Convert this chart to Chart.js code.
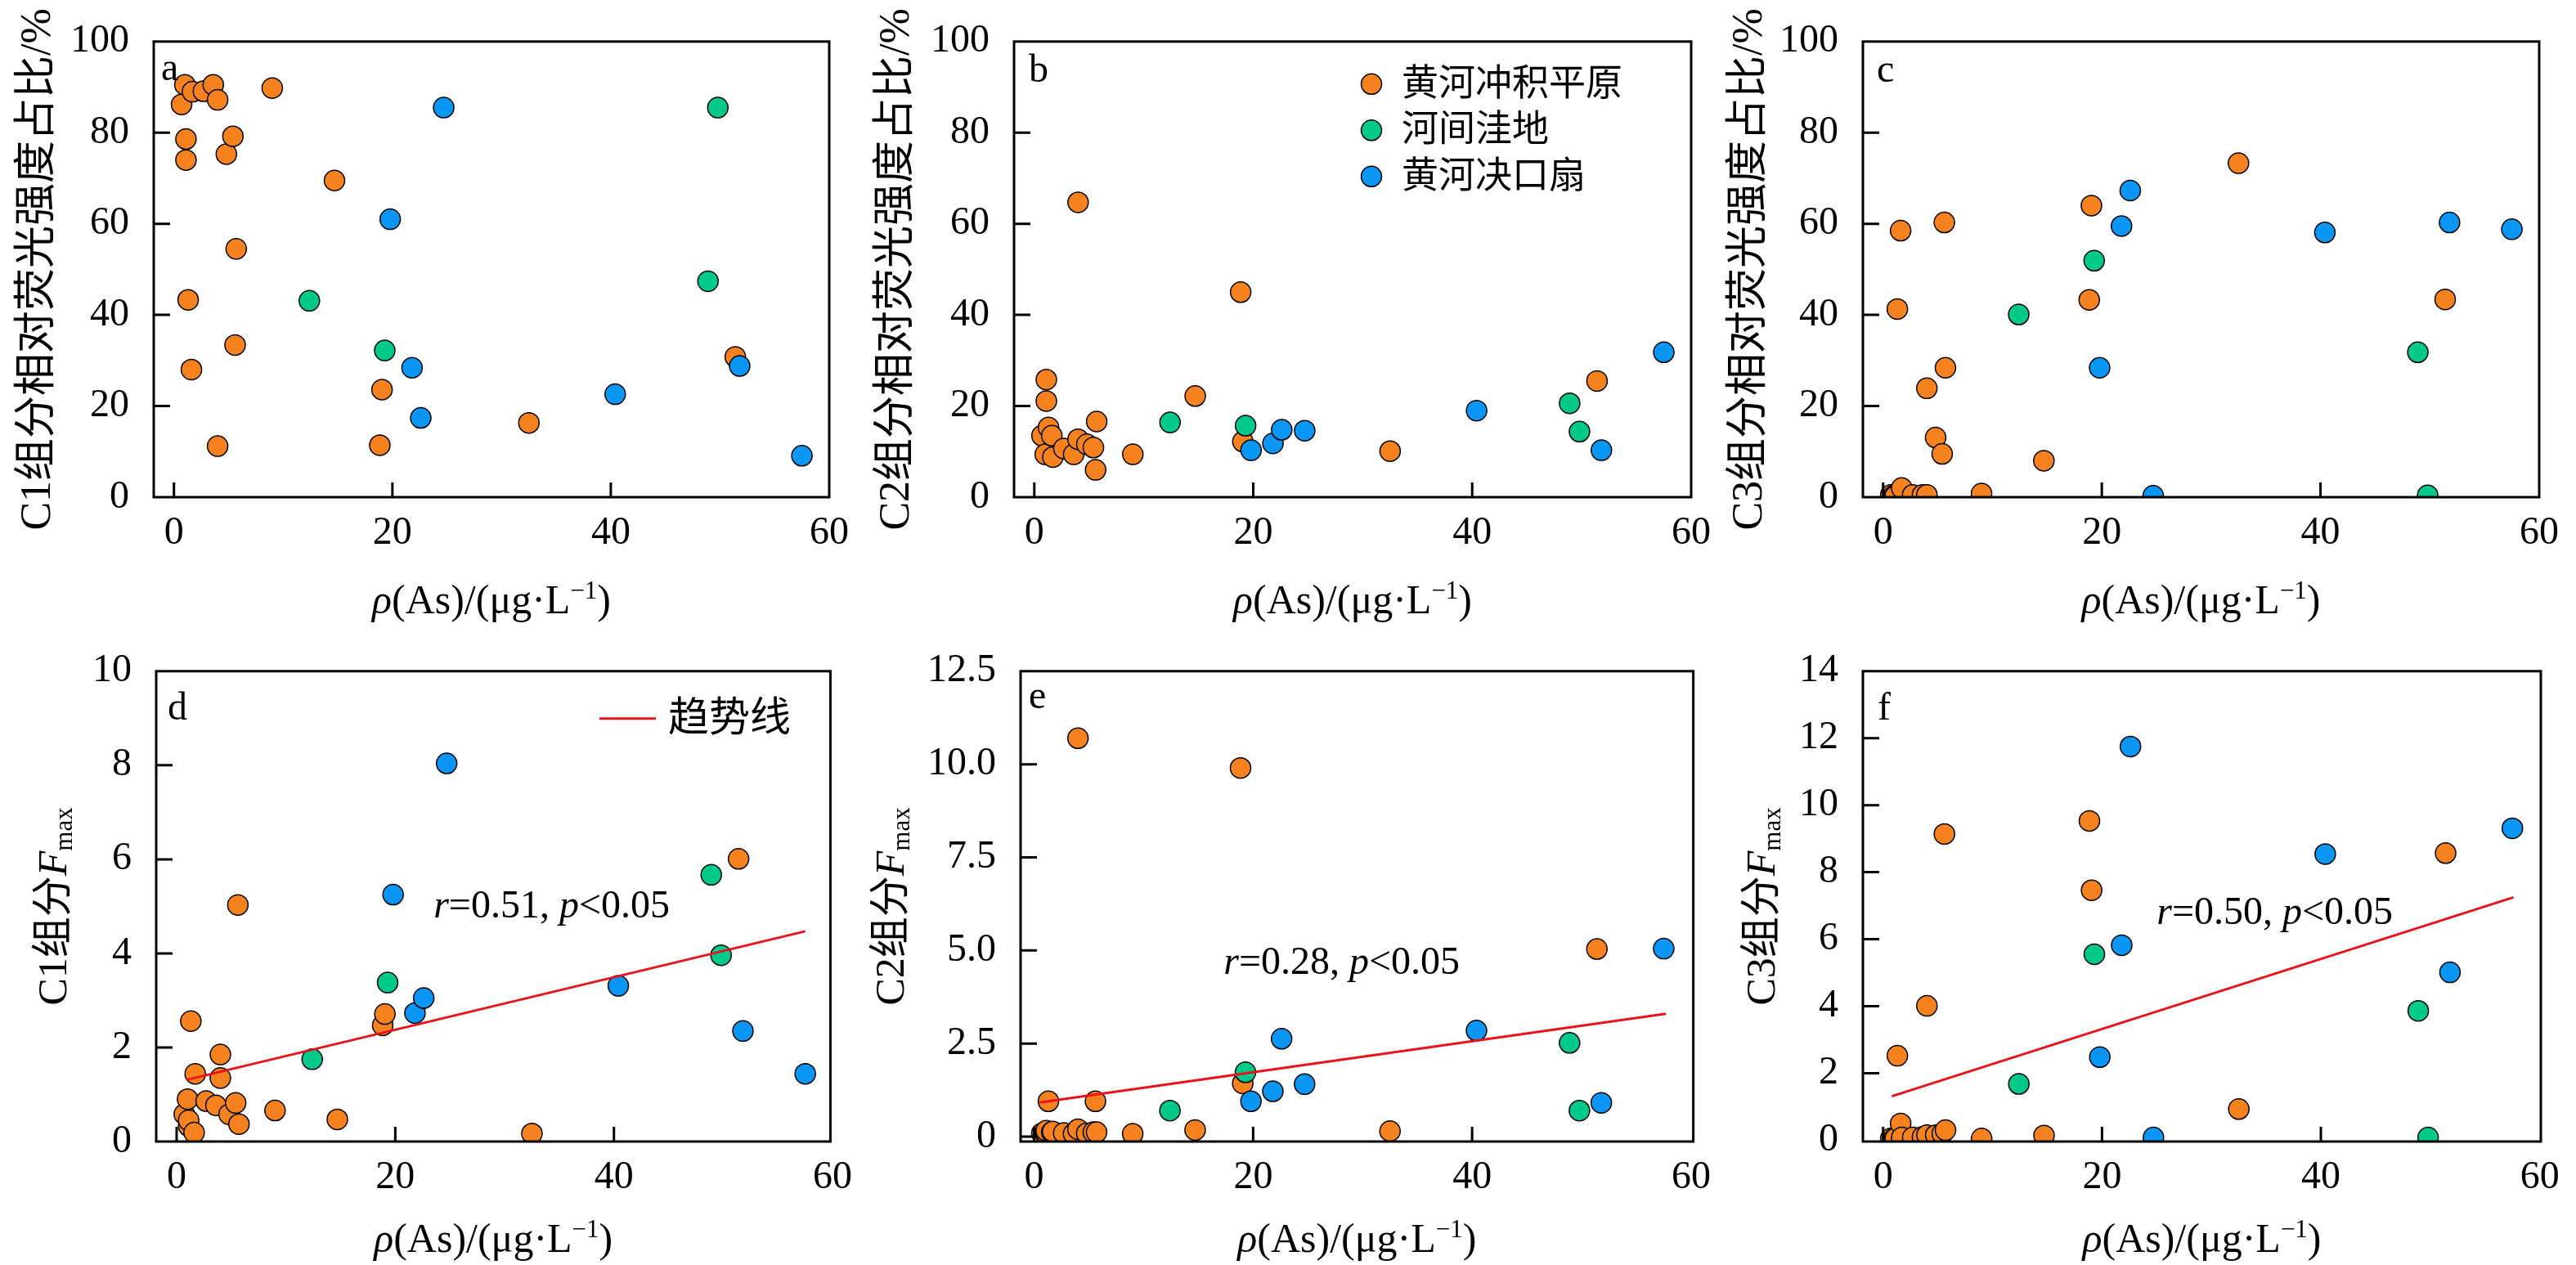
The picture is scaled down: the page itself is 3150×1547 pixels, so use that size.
<!DOCTYPE html>
<html>
<head>
<meta charset="utf-8">
<script src="https://cdn.jsdelivr.net/npm/chart.js@4.4.0/dist/chart.umd.min.js"></script>
<style>
  body { margin: 0; background: #fff; }
  #wrap { position: relative; width: 3150px; height: 1547px; overflow: hidden; }
  #wrap canvas { position: absolute; }
</style>
</head>
<body>
<div id="wrap">
  <canvas id="pa" width="1050" height="770" style="left:0;top:0"></canvas>
  <canvas id="pb" width="1050" height="770" style="left:1050px;top:0"></canvas>
  <canvas id="pc" width="1050" height="770" style="left:2100px;top:0"></canvas>
  <canvas id="pd" width="1050" height="777" style="left:0;top:770px"></canvas>
  <canvas id="pe" width="1050" height="777" style="left:1050px;top:770px"></canvas>
  <canvas id="pf" width="1050" height="777" style="left:2100px;top:770px"></canvas>
</div>
<script>
// ---- data ----
const groupNames = ['黄河冲积平原', '河间洼地', '黄河决口扇'];
const groupColors = ['#F5821E', '#00C98A', '#0A96F5'];

// As concentration of the samples (same samples in every panel)
const orangeAs = [0.7, 1.0, 1.1, 1.1, 1.3, 1.6, 1.7, 2.7, 3.6, 4.0, 4.0, 4.8, 5.4, 5.6, 5.7, 9.0, 14.7, 18.85, 19.05, 32.5, 51.4];
const greenAs = [12.4, 19.3, 48.9, 49.8];
const blueAs = [19.8, 21.8, 22.6, 24.7, 40.4, 51.8, 57.5];

// relative fluorescence share, %
const c1PctOrange = [86.2, 90.5, 78.6, 74.0, 43.3, 28.0, 89.0, 89.1, 90.5, 87.2, 11.2, 75.3, 79.2, 33.4, 54.5, 89.8, 69.5, 11.4, 23.6, 16.3, 30.8];
const c2PctOrange = [13.5, 9.4, 21.1, 25.8, 15.3, 13.5, 8.8, 10.7, 9.4, 12.7, 64.7, 11.6, 10.9, 6.0, 16.6, 9.4, 22.2, 45.0, 12.2, 10.1, 25.5];
const c3PctOrange = [0.5, 0.4, 0.3, 0.2, 41.3, 58.5, 2.0, 0.5, 0.5, 0.5, 23.9, 13.1, 9.5, 60.3, 28.4, 0.8, 8.0, 43.3, 64.0, 73.3, 43.4];
const c1PctGreen = [43.1, 32.2, 47.4, 85.5];
const c2PctGreen = [16.4, 15.7, 20.6, 14.4];
const c3PctGreen = [40.1, 51.9, 31.8, 0.4];
const c1PctBlue = [61.0, 28.4, 17.4, 85.5, 22.6, 28.8, 9.1];
const c2PctBlue = [10.3, 11.8, 14.8, 14.6, 19.0, 10.3, 31.8];
const c3PctBlue = [28.4, 59.5, 67.3, 0.3, 58.1, 60.3, 58.8];

// Fmax
const c1FOrange = [0.58, 0.90, 0.33, 0.45, 2.56, 0.19, 1.44, 0.86, 0.77, 1.35, 1.85, 0.58, 0.82, 5.03, 0.37, 0.66, 0.47, 2.47, 2.71, 0.17, 6.01];
const c2FOrange = [0.09, 0.10, 0.09, 0.16, 0.95, 0.12, 0.14, 0.10, 0.08, 0.20, 10.7, 0.09, 0.12, 0.95, 0.12, 0.08, 0.18, 9.9, 1.43, 0.15, 5.04];
const c3FOrange = [0.05, 0.05, 0.05, 0.05, 2.52, 0.50, 0.08, 0.08, 0.10, 0.15, 4.01, 0.15, 0.20, 9.14, 0.30, 0.05, 0.14, 9.53, 7.46, 0.93, 8.57];
const c1FGreen = [1.75, 3.38, 5.67, 3.96];
const c2FGreen = [0.70, 1.73, 2.52, 0.70];
const c3FGreen = [1.68, 5.55, 3.86, 0.08];
const c1FBlue = [5.25, 2.73, 3.05, 8.04, 3.31, 2.35, 1.44];
const c2FBlue = [0.95, 1.22, 2.63, 1.41, 2.85, 0.91, 5.05];
const c3FBlue = [2.48, 5.82, 11.75, 0.08, 8.54, 5.01, 9.31];

// trend lines (end points)
const trendC1X = [0.9, 57.5], trendC1Y = [1.31, 4.47];
const trendC2X = [0.5, 57.7], trendC2Y = [0.92, 3.30];
const trendC3X = [0.8, 57.6], trendC3Y = [1.31, 7.25];
const trendStats = ['0.51', '0.28', '0.50'];

// ticks
const xTicks = [0, 20, 40, 60];
const xTickLabels = ['0', '20', '40', '60'];
const pctTicks = [0, 20, 40, 60, 80, 100];
const pctTickLabels = ['0', '20', '40', '60', '80', '100'];
const c1FTicks = [0, 2, 4, 6, 8, 10];
const c1FTickLabels = ['0', '2', '4', '6', '8', '10'];
const c2FTicks = [0, 2.5, 5, 7.5, 10, 12.5];
const c2FTickLabels = ['0', '2.5', '5.0', '7.5', '10.0', '12.5'];
const c3FTicks = [0, 2, 4, 6, 8, 10, 12, 14];
const c3FTickLabels = ['0', '2', '4', '6', '8', '10', '12', '14'];

// ---- drawing ----
const FAM = "'Liberation Serif', 'Noto Sans CJK SC', serif";

function rich(ctx, runs, x, y, size, align) {
  const fontOf = r => (r.i ? 'italic ' : '') + Math.round(r.s ? size * 0.62 : size) + 'px ' + FAM;
  let w = 0;
  runs.forEach(r => { ctx.font = fontOf(r); r.w = ctx.measureText(r.t).width; w += r.w; });
  let cx = align === 'center' ? x - w / 2 : x;
  runs.forEach(r => {
    ctx.font = fontOf(r);
    const dy = r.s === 'sup' ? -size * 0.36 : r.s === 'sub' ? size * 0.24 : 0;
    ctx.fillText(r.t, cx, y + dy);
    cx += r.w;
  });
}

const xTitle = [{t: 'ρ', i: true}, {t: '(As)/(μg·L'}, {t: '−1', s: 'sup'}, {t: ')'}];

const decor = {
  id: 'decor',
  afterDatasetsDraw(chart, args, o) {
    const ctx = chart.ctx, a = chart.chartArea, xs = chart.scales.x, ys = chart.scales.y;
    ctx.save();
    ctx.strokeStyle = '#000';
    ctx.lineWidth = 3;
    ctx.beginPath();
    xs.ticks.forEach(t => {
      const p = xs.getPixelForValue(t.value);
      if (p > a.left + 3 && p < a.right - 3) { ctx.moveTo(p, a.bottom); ctx.lineTo(p, a.bottom - 18); }
    });
    ys.ticks.forEach(t => {
      const p = ys.getPixelForValue(t.value);
      if (p > a.top + 3 && p < a.bottom - 3) { ctx.moveTo(a.left, p); ctx.lineTo(a.left + 20, p); }
    });
    ctx.stroke();
    ctx.strokeRect(a.left, a.top, a.width, a.height);

    ctx.fillStyle = '#000';
    ctx.textAlign = 'left';
    ctx.textBaseline = 'alphabetic';
    ctx.font = '48px ' + FAM;
    ctx.fillText(o.letter, a.left + o.letterPos[0], a.top + o.letterPos[1]);

    rich(ctx, xTitle.map(r => Object.assign({}, r)), (a.left + a.right) / 2, a.bottom + o.xTitleGap, 50, 'center');

    ctx.save();
    ctx.translate(a.left - o.yTitleGap, (a.top + a.bottom) / 2);
    ctx.rotate(-Math.PI / 2);
    ctx.textBaseline = 'middle';
    rich(ctx, o.yTitle, 0, 0, o.yTitleSize, 'center');
    ctx.restore();

    if (o.groupLegend) {
      const L = o.groupLegend;
      groupNames.forEach((name, i) => {
        const cy = a.top + L.dy + i * L.gap;
        ctx.beginPath();
        ctx.arc(a.left + L.dx, cy, 12.5, 0, Math.PI * 2);
        ctx.fillStyle = groupColors[i];
        ctx.fill();
        ctx.lineWidth = 1.5;
        ctx.stroke();
        ctx.fillStyle = '#000';
        ctx.textBaseline = 'middle';
        ctx.font = '45px ' + FAM;
        ctx.fillText(name, a.left + L.tx, cy + 2);
      });
    }
    if (o.trendLegend) {
      const L = o.trendLegend;
      ctx.strokeStyle = '#E8141C';
      ctx.lineWidth = 3;
      ctx.beginPath();
      ctx.moveTo(a.left + L.x0, a.top + L.dy);
      ctx.lineTo(a.left + L.x1, a.top + L.dy);
      ctx.stroke();
      ctx.fillStyle = '#000';
      ctx.textBaseline = 'middle';
      ctx.font = '50px ' + FAM;
      ctx.fillText('趋势线', a.left + L.tx, a.top + L.dy + 2);
    }
    if (o.note) {
      ctx.textBaseline = 'alphabetic';
      ctx.fillStyle = '#000';
      rich(ctx, [{t: 'r', i: true}, {t: '=' + o.note.r + ', '}, {t: 'p', i: true}, {t: '<0.05'}],
        xs.getPixelForValue(o.note.x), ys.getPixelForValue(o.note.y), 48, 'left');
    }
    ctx.restore();
  }
};

function pts(xv, yv) { return xv.map((x, i) => ({x: x, y: yv[i]})); }

function makePanel(p) {
  const cv = document.getElementById(p.id);
  const datasets = [
    {data: pts(orangeAs, p.ys[0]), backgroundColor: groupColors[0], order: 3},
    {data: pts(greenAs, p.ys[1]), backgroundColor: groupColors[1], order: 2},
    {data: pts(blueAs, p.ys[2]), backgroundColor: groupColors[2], order: 1}
  ].map(d => Object.assign(d, {pointRadius: 12.5, pointHoverRadius: 12.5, borderColor: '#000', borderWidth: 1.5, clip: 0}));
  if (p.trend) {
    datasets.push({data: pts(p.trend[0], p.trend[1]), showLine: true, borderColor: '#E8141C', borderWidth: 3,
      pointRadius: 0, order: 0, clip: 0});
  }
  const yScaleWidth = p.box[0] - p.left;
  const xScaleHeight = p.top + cv.height - p.box[3];
  new Chart(cv, {
    type: 'scatter',
    data: {datasets: datasets},
    options: {
      responsive: false,
      devicePixelRatio: 1,
      animation: false,
      events: [],
      layout: {padding: {left: 0, top: p.box[1] - p.top, right: p.left + cv.width - p.box[2], bottom: 0}},
      scales: {
        x: {
          type: 'linear', min: p.x[0], max: p.x[1],
          grid: {display: false}, border: {display: false},
          afterBuildTicks: s => { s.ticks = xTicks.map(v => ({value: v})); },
          afterFit: s => { s.height = xScaleHeight; },
          ticks: {font: {family: FAM, size: 48}, color: '#000', padding: 8, maxRotation: 0, autoSkip: false,
            callback: (v, i) => xTickLabels[i]}
        },
        y: {
          type: 'linear', min: p.y[0], max: p.y[1],
          grid: {display: false}, border: {display: false},
          afterBuildTicks: s => { s.ticks = p.yTicks.map(v => ({value: v})); },
          afterFit: s => { s.width = yScaleWidth; },
          ticks: {font: {family: FAM, size: 48}, color: '#000', padding: 22, autoSkip: false,
            callback: (v, i) => p.yLabels[i]}
        }
      },
      plugins: {
        legend: {display: false},
        tooltip: {enabled: false},
        decor: {
          letter: p.letter, letterPos: p.letterPos, yTitle: p.yTitle, yTitleGap: p.yTitleGap, yTitleSize: p.yTitleSize || 50,
          xTitleGap: p.xTitleGap, groupLegend: p.groupLegend, trendLegend: p.trendLegend, note: p.note
        }
      }
    },
    plugins: [decor]
  });
}

function pctTitle(n) { return [{t: 'C' + n + '组分相对荧光强度占比/%'}]; }
function fTitle(n) { return [{t: 'C' + n + '组分'}, {t: 'F', i: true}, {t: 'max', s: 'sub'}]; }

makePanel({id: 'pa', letter: 'a', left: 0, top: 0, box: [188, 31, 1014, 608], x: [-1.85, 60], y: [0, 100],
  yTicks: pctTicks, yLabels: pctTickLabels, ys: [c1PctOrange, c1PctGreen, c1PctBlue],
  letterPos: [9, 47], yTitle: pctTitle(1), yTitleSize: 52, yTitleGap: 141, xTitleGap: 142});
makePanel({id: 'pb', letter: 'b', left: 1050, top: 0, box: [1240, 31, 2068, 608], x: [-1.85, 60], y: [0, 100],
  yTicks: pctTicks, yLabels: pctTickLabels, ys: [c2PctOrange, c2PctGreen, c2PctBlue],
  letterPos: [18, 49], yTitle: pctTitle(2), yTitleSize: 52, yTitleGap: 143, xTitleGap: 142,
  groupLegend: {dx: 437, dy: 52, gap: 56.5, tx: 474}});
makePanel({id: 'pc', letter: 'c', left: 2100, top: 0, box: [2278, 31, 3105, 608], x: [-1.85, 60], y: [0, 100],
  yTicks: pctTicks, yLabels: pctTickLabels, ys: [c3PctOrange, c3PctGreen, c3PctBlue],
  letterPos: [17, 49], yTitle: pctTitle(3), yTitleSize: 52, yTitleGap: 138, xTitleGap: 142});
makePanel({id: 'pd', letter: 'd', left: 0, top: 770, box: [191, 816, 1016, 1396], x: [-1.87, 59.8], y: [0, 10],
  yTicks: c1FTicks, yLabels: c1FTickLabels, ys: [c1FOrange, c1FGreen, c1FBlue], trend: [trendC1X, trendC1Y],
  letterPos: [14, 59], yTitle: fTitle(1), yTitleGap: 123, xTitleGap: 135,
  trendLegend: {x0: 542, x1: 611, dy: 58, tx: 626}, note: {r: trendStats[0], x: 23.5, y: 4.77}});
makePanel({id: 'pe', letter: 'e', left: 1050, top: 770, box: [1248, 815, 2077, 1396], x: [-1.24, 60.2], y: [-0.13, 12.5],
  yTicks: c2FTicks, yLabels: c2FTickLabels, ys: [c2FOrange, c2FGreen, c2FBlue], trend: [trendC2X, trendC2Y],
  letterPos: [10, 45], yTitle: fTitle(2), yTitleGap: 156, xTitleGap: 135,
  note: {r: trendStats[1], x: 17.3, y: 4.37}});
makePanel({id: 'pf', letter: 'f', left: 2100, top: 770, box: [2278, 813, 3107, 1396], x: [-1.85, 60.1], y: [-0.04, 14],
  yTicks: c3FTicks, yLabels: c3FTickLabels, ys: [c3FOrange, c3FGreen, c3FBlue], trend: [trendC3X, trendC3Y],
  letterPos: [18, 59], yTitle: fTitle(3), yTitleGap: 121, xTitleGap: 135,
  note: {r: trendStats[2], x: 25.0, y: 6.45}});
</script>
</body>
</html>
